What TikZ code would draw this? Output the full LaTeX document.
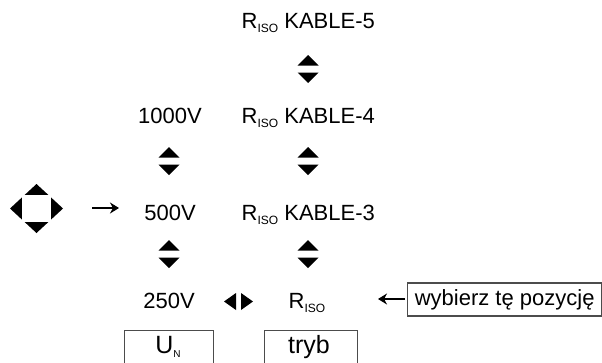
\documentclass[tikz,border=0pt]{standalone}
\usepackage{fontspec}
\setmainfont{Liberation Sans}
\usetikzlibrary{arrows.meta}
\newcommand{\subiso}{\raisebox{-4pt}{\fontsize{12}{12}\selectfont ISO}}
\newcommand{\subenn}{\raisebox{-4pt}{\fontsize{10}{10}\selectfont N}}
\tikzset{
  updown/.pic={
    \fill (-10.5,-3.5) -- (10.5,-3.5) -- (0,-14) -- cycle;
    \fill (-10.5,3.5) -- (10.5,3.5) -- (0,14) -- cycle;
  },
  leftright/.pic={
    \fill (-2.5,-8.5) -- (-2.5,8.5) -- (-14.5,0) -- cycle;
    \fill (2.5,-8.5) -- (2.5,8.5) -- (14.5,0) -- cycle;
  },
  padsym/.pic={
    \fill (0,-24.5) -- (26.5,0) -- (0,24.5) -- (-26.5,0) -- cycle;
    \fill[white] (-14.5,-13.5) rectangle (14.5,13.5);
  }
}
\begin{document}
\begin{tikzpicture}[x=1pt,y=-1pt,
  lbl/.style={inner sep=0pt, font=\fontsize{22}{26}\selectfont},
  biglbl/.style={inner sep=0pt, font=\fontsize{25}{29}\selectfont},
  keybox/.style={draw=black!70, line width=1.4pt, inner sep=0pt},
  arr/.style={line width=2.4pt, -{Stealth[length=9pt,width=11pt]}}]
\useasboundingbox[fill=white] (0,0) rectangle (602,362);

% right column
\node[lbl,anchor=base west] (k5) at (241.5,28) {R\subiso\ KABLE-5};
\node[lbl,anchor=base west] (k4) at (241.5,123) {R\subiso\ KABLE-4};
\node[lbl,anchor=base west] (k3) at (241.5,220) {R\subiso\ KABLE-3};
\node[lbl,anchor=base] (r) at (307,308) {R\subiso};

% left column
\node[lbl,anchor=base] (v1000) at (170,123) {1000V};
\node[lbl,anchor=base] (v500) at (170,220) {500V};
\node[lbl,anchor=base] (v250) at (169,308) {250V};

% arrow symbols
\pic (ud1) at (308,69) {updown};
\pic (ud2) at (308,161) {updown};
\pic (ud3) at (308,254) {updown};
\pic (ud4) at (169,161) {updown};
\pic (ud5) at (169,254) {updown};
\pic (lr) at (238.5,301.5) {leftright};
\pic (pad) at (36.5,208.5) {padsym};

% arrow pad -> 500V
\coordinate (a1) at (92,208);
\coordinate (a2) at (119,208);
\draw[arr] (a1) -- (a2);

% hint box
\node[lbl, keybox, anchor=west, minimum width=194pt, minimum height=33pt] (hint) at (407,299.5) {wybierz tę pozycję};
\coordinate (a3) at (378,299);
\draw[arr, shorten <=2pt] (hint.west |- a3) -- (a3);

% bottom boxes
\node[keybox, anchor=north west, minimum width=89pt, minimum height=36pt] (unbox) at (124,330) {};
\node[biglbl,anchor=base] (un) at (168,353) {U\subenn};
\node[keybox, anchor=north west, minimum width=93pt, minimum height=36pt] (trbox) at (264,330) {};
\node[biglbl,anchor=base] (tr) at (309,353) {tryb};
\end{tikzpicture}
\end{document}
